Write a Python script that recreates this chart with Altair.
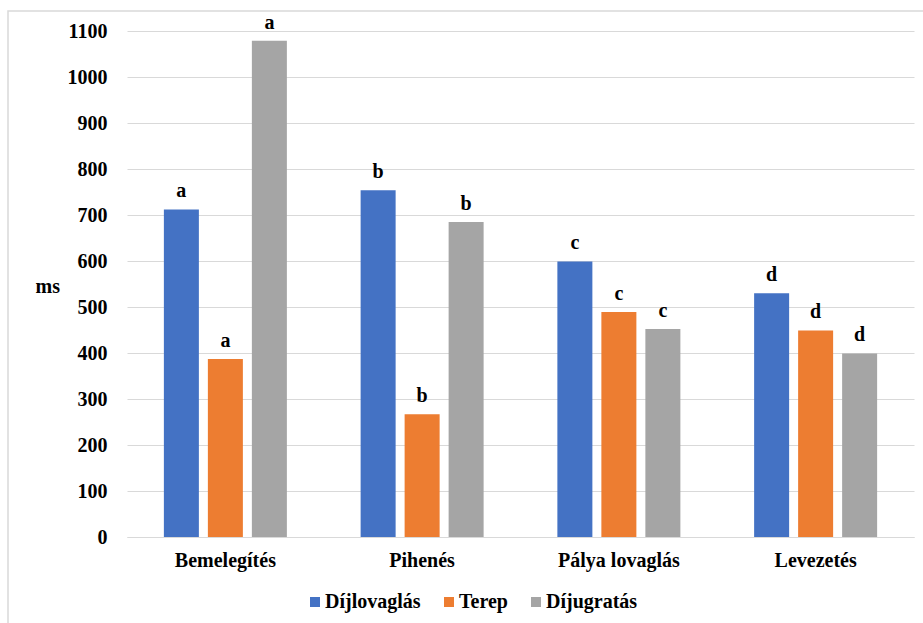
import altair as alt
import pandas as pd

# Phases of the riding session and the three disciplines
phases = ["Bemelegítés", "Pihenés", "Pálya lovaglás", "Levezetés"]
disciplines = ["Díjlovaglás", "Terep", "Díjugratás"]

# Mean values (ms) per phase for each discipline
dijlovaglas = [712, 754, 599, 530]
terep = [387, 267, 489, 449]
dijugratas = [1079, 685, 452, 399]

# Significance letters per phase
letters = ["a", "b", "c", "d"]

colors = ["#4472C4", "#ED7D31", "#A5A5A5"]
FONT = "Liberation Serif"
SIZE = 20

rows = []
for series_name, values in zip(disciplines, [dijlovaglas, terep, dijugratas]):
    for phase, val, letter in zip(phases, values, letters):
        rows.append({"phase": phase, "series": series_name, "value": val, "letter": letter})
df = pd.DataFrame(rows)

x_enc = alt.X(
    "phase:N",
    sort=phases,
    title=None,
    scale=alt.Scale(paddingInner=0, paddingOuter=0),
    axis=alt.Axis(
        labelAngle=0,
        labelPadding=13,
        ticks=False,
        domainColor="#d9d9d9",
        domainWidth=1,
        grid=False,
    ),
)
xoff_enc = alt.XOffset(
    "series:N",
    sort=disciplines,
    scale=alt.Scale(paddingInner=0.2045, paddingOuter=0.838),
)
y_enc = alt.Y(
    "value:Q",
    scale=alt.Scale(domain=[0, 1100]),
    title="ms",
    axis=alt.Axis(
        values=list(range(0, 1200, 100)),
        format="d",
        labelPadding=20,
        ticks=False,
        domain=False,
        gridColor="#d9d9d9",
        gridWidth=1,
        titleAngle=0,
        titleX=-92,
        titleY=255,
        titleAlign="left",
        titleBaseline="middle",
    ),
)

bars = alt.Chart(df).mark_bar().encode(
    x=x_enc,
    xOffset=xoff_enc,
    y=y_enc,
    color=alt.Color(
        "series:N",
        sort=disciplines,
        scale=alt.Scale(domain=disciplines, range=colors),
        legend=alt.Legend(
            title=None,
            orient="none",
            legendX=178,
            legendY=561,
            direction="horizontal",
            symbolType="square",
            symbolSize=100,
            symbolStrokeWidth=0,
            labelOffset=0,
            columnPadding=18,
        ),
    ),
)

labels = alt.Chart(df).mark_text(
    dy=-12,
    baseline="alphabetic",
).encode(
    x=alt.X("phase:N", sort=phases),
    xOffset=alt.XOffset("series:N", sort=disciplines),
    y="value:Q",
    text="letter:N",
)

# Light outer frame around the whole figure
frame = alt.Chart(alt.Data(values=[{}])).mark_rect(
    fillOpacity=0, stroke="#d9d9d9", strokeWidth=1.5
).encode(
    x=alt.value(-119), x2=alt.value(820), y=alt.value(-20), y2=alt.value(620)
)

chart = (
    alt.layer(bars, labels, frame)
    .properties(
        width=787,
        height=506,
        autosize=alt.AutoSizeParams(type="none"),
        padding={"left": 127, "top": 31, "right": 9, "bottom": 86},
        background="white",
    )
    .configure(font=FONT)
    .configure_axis(
        labelFont=FONT,
        labelFontWeight="bold",
        labelFontSize=SIZE,
        labelColor="black",
        titleFont=FONT,
        titleFontWeight="bold",
        titleFontSize=SIZE,
        titleColor="black",
    )
    .configure_legend(
        labelFont=FONT,
        labelFontWeight="bold",
        labelFontSize=SIZE,
        labelColor="black",
    )
    .configure_text(font=FONT, fontWeight="bold", fontSize=SIZE, color="black")
    .configure_view(stroke=None)
)

chart.save("out.html", embed_options={"renderer": "svg", "actions": False})
